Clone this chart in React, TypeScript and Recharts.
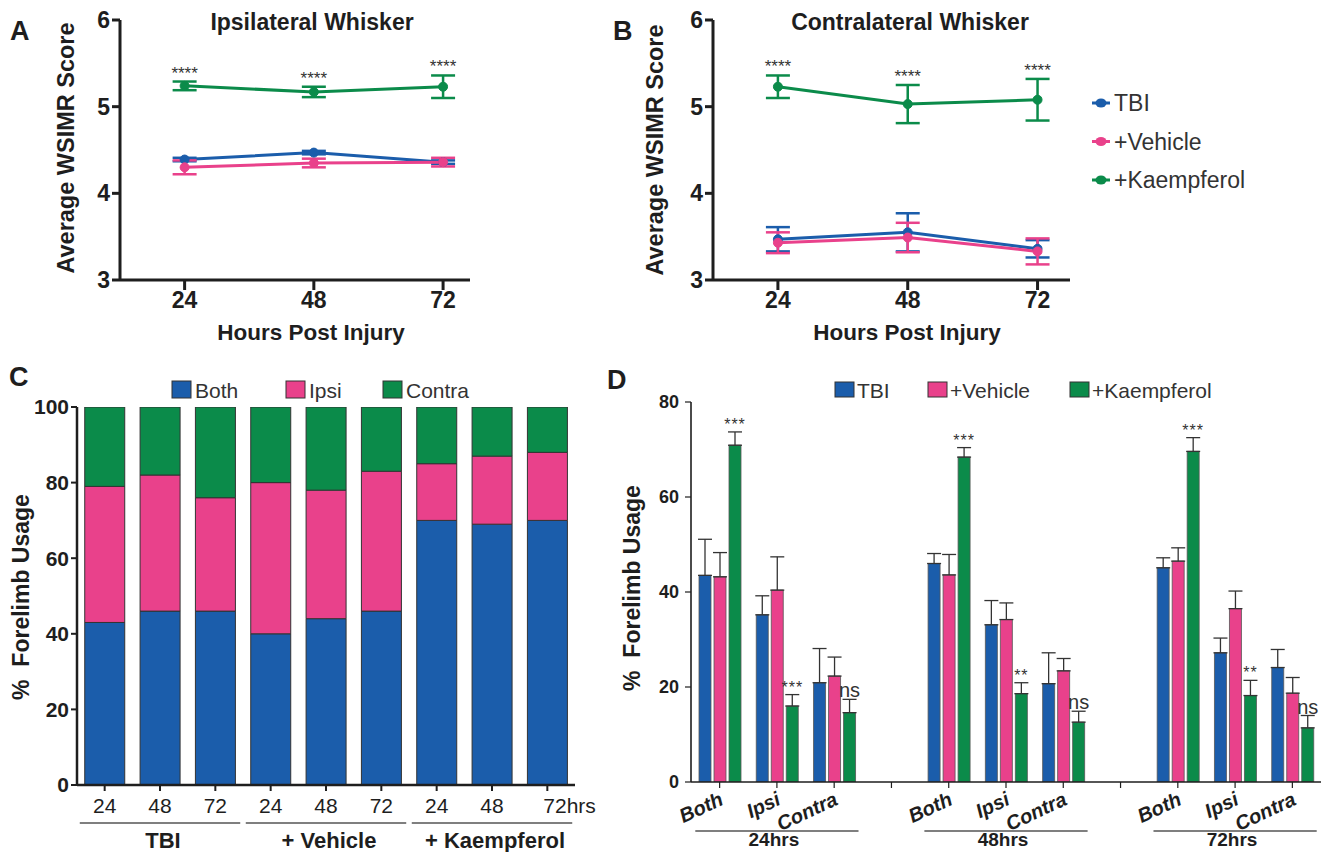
import React from "react";
import {
  LineChart,
  Line,
  BarChart,
  Bar,
  XAxis,
  YAxis,
  ErrorBar,
  LabelList,
} from "recharts";

const FONT = '"Liberation Sans", Arial, Helvetica, sans-serif';
const INK = "#1e1e1e";
const BLUE = "#1b5dab";
const PINK = "#e9418b";
const GREEN = "#0b8b4a";

const seriesNames = ["TBI", "+Vehicle", "+Kaempferol"];
const seriesColors = [BLUE, PINK, GREEN];

// A / B – average WSIMR score
const hours = [24, 48, 72];
const whiskerSig = ["****", "****", "****"];

const ipsiTbi = [4.39, 4.47, 4.36];
const ipsiTbiErr = [0.02, 0.02, 0.02];
const ipsiVeh = [4.3, 4.35, 4.36];
const ipsiVehErr = [0.08, 0.05, 0.05];
const ipsiKae = [5.24, 5.17, 5.23];
const ipsiKaeErr = [0.05, 0.06, 0.13];

const contraTbi = [3.47, 3.55, 3.36];
const contraTbiErr = [0.14, 0.22, 0.1];
const contraVeh = [3.43, 3.49, 3.33];
const contraVehErr = [0.12, 0.17, 0.15];
const contraKae = [5.23, 5.03, 5.08];
const contraKaeErr = [0.13, 0.22, 0.24];

// C – stacked forelimb usage
const cHourLabels = ["24", "48", "72", "24", "48", "72", "24", "48", "72hrs"];
const cGroupLabels = ["TBI", "+ Vehicle", "+ Kaempferol"];
const cBoth = [43, 46, 46, 40, 44, 46, 70, 69, 70];
const cIpsi = [36, 36, 30, 40, 34, 37, 15, 18, 18];
const cContra = [21, 18, 24, 20, 22, 17, 15, 13, 12];
const cNames = ["Both", "Ipsi", "Contra"];

// D – grouped forelimb usage (blank slots between time points)
const dCats = ["Both", "Ipsi", "Contra", "", "Both", "Ipsi", "Contra", "", "Both", "Ipsi", "Contra"];
const dTimes = ["24hrs", "48hrs", "72hrs"];
const dTbi = [43.5, 35.2, 20.9, null, 46.0, 33.1, 20.7, null, 45.1, 27.2, 24.1];
const dTbiErr = [7.6, 4.0, 7.2, null, 2.1, 5.1, 6.5, null, 2.1, 3.1, 3.8];
const dVeh = [43.2, 40.4, 22.3, null, 43.6, 34.2, 23.4, null, 46.5, 36.5, 18.7];
const dVehErr = [5.1, 7.0, 4.0, null, 4.3, 3.5, 2.6, null, 2.8, 3.7, 3.3];
const dKae = [70.9, 16.0, 14.6, null, 68.4, 18.6, 12.6, null, 69.6, 18.2, 11.4];
const dKaeErr = [2.8, 2.4, 2.8, null, 2.0, 2.3, 2.3, null, 2.9, 3.2, 2.6];
const dSig = ["***", "***", "ns", "", "***", "**", "ns", "", "***", "**", "ns"];

function whiskerRows(
  tbi: number[], tbiErr: number[],
  veh: number[], vehErr: number[],
  kae: number[], kaeErr: number[]
) {
  return hours.map((h, i) => ({
    hour: h,
    tbi: tbi[i],
    tbiErr: tbiErr[i],
    veh: veh[i],
    vehErr: vehErr[i],
    kae: kae[i],
    kaeErr: kaeErr[i],
    kaeTop: kae[i] + kaeErr[i],
    sig: whiskerSig[i],
  }));
}

const ipsiRows = whiskerRows(ipsiTbi, ipsiTbiErr, ipsiVeh, ipsiVehErr, ipsiKae, ipsiKaeErr);
const contraRows = whiskerRows(contraTbi, contraTbiErr, contraVeh, contraVehErr, contraKae, contraKaeErr);

const cRows = cBoth.map((b, i) => ({
  key: `${Math.floor(i / 3)}-${cHourLabels[i]}`,
  both: b,
  ipsi: cIpsi[i],
  contra: cContra[i],
}));

const upOnly = (e: number | null) => (e == null ? null : [0, e]);
const dRows = dCats.map((c, i) => ({
  key: `${i}-${c}`,
  tbi: dTbi[i],
  tbiErr: upOnly(dTbiErr[i]),
  veh: dVeh[i],
  vehErr: upOnly(dVehErr[i]),
  kae: dKae[i],
  kaeErr: upOnly(dKaeErr[i]),
  // label text plus what is needed to lift it above the error bar
  sig: dSig[i] ? `${dSig[i]}|${dKae[i]}|${dKaeErr[i]}` : "",
}));

function WhiskerChart({ data, xDomain, yAxisWidth, width }: any) {
  const axis = { stroke: INK, strokeWidth: 3 };
  const tick = { fill: INK, fontSize: 23, fontWeight: 700, fontFamily: FONT };
  const dot = (c: string) => ({ r: 4.5, fill: c, stroke: c, strokeWidth: 1 });
  return (
    <LineChart width={width} height={350} data={data} margin={{ top: 20, right: 10, bottom: 0, left: 0 }}>
      <XAxis type="number" dataKey="hour" domain={xDomain} ticks={hours} allowDataOverflow
        axisLine={axis} tickLine={axis} tickSize={10} tick={tick} height={70} />
      <YAxis type="number" domain={[3, 6]} ticks={[3, 4, 5, 6]} allowDataOverflow
        axisLine={axis} tickLine={axis} tickSize={8} tick={tick} width={yAxisWidth} />
      <Line dataKey="tbi" stroke={BLUE} strokeWidth={3} dot={dot(BLUE)} activeDot={false} isAnimationActive={false}>
        <ErrorBar dataKey="tbiErr" width={12} stroke={BLUE} strokeWidth={2.5} direction="y" />
      </Line>
      <Line dataKey="veh" stroke={PINK} strokeWidth={3} dot={dot(PINK)} activeDot={false} isAnimationActive={false}>
        <ErrorBar dataKey="vehErr" width={12} stroke={PINK} strokeWidth={2.5} direction="y" />
      </Line>
      <Line dataKey="kae" stroke={GREEN} strokeWidth={3} dot={dot(GREEN)} activeDot={false} isAnimationActive={false}>
        <ErrorBar dataKey="kaeErr" width={12} stroke={GREEN} strokeWidth={2.5} direction="y" />
      </Line>
      <Line dataKey="kaeTop" stroke="none" dot={false} activeDot={false} legendType="none" isAnimationActive={false}>
        <LabelList dataKey="sig" position="top" offset={3} fill="#333" fontSize={17} fontFamily={FONT} />
      </Line>
    </LineChart>
  );
}

const CTick = (props: any) => {
  const { x, y, payload } = props;
  const i = typeof props.index === "number" ? props.index : payload.index;
  const half = payload.offset || 27.6;
  const last = i === cHourLabels.length - 1;
  return (
    <g>
      <text x={last ? x - 4 : x} y={y + 20} textAnchor={last ? "start" : "middle"} fill={INK} fontSize={21} fontFamily={FONT}>
        {cHourLabels[i]}
      </text>
      {i % 3 === 1 && (
        <g>
          <line x1={x - half * 2.9} x2={x + half * 2.9} y1={y + 30} y2={y + 30} stroke="#555" strokeWidth={1.5} />
          <text x={x + 3} y={y + 55} textAnchor="middle" fill={INK} fontSize={22} fontWeight={700} fontFamily={FONT}>
            {cGroupLabels[(i - 1) / 3]}
          </text>
        </g>
      )}
    </g>
  );
};

const DTick = (props: any) => {
  const { x, y, payload } = props;
  const i = typeof props.index === "number" ? props.index : payload.index;
  const half = payload.offset || 28.6;
  const label = dCats[i];
  return (
    <g>
      {label && (
        <text x={x + 5} y={y + 14} transform={`rotate(-25 ${x + 5} ${y + 14})`} textAnchor="end"
          fill={INK} fontSize={20} fontStyle="italic" fontWeight={700} fontFamily={FONT}>
          {label}
        </text>
      )}
      {i % 4 === 1 && (
        <g>
          <line x1={x - half * 2.85} x2={x + half * 2.85} y1={y + 41} y2={y + 41} stroke="#555" strokeWidth={1.5} />
          <text x={x - 3} y={y + 56} textAnchor="middle" fill={INK} fontSize={19} fontWeight={700} fontFamily={FONT}>
            {dTimes[(i - 1) / 4]}
          </text>
        </g>
      )}
    </g>
  );
};

const SigLabel = (props: any) => {
  const raw = props.value;
  if (!raw || typeof raw !== "string") return null;
  const [text, vStr, eStr] = raw.split("|");
  const v = Number(vStr);
  const e = Number(eStr);
  const vb = props.viewBox || props;
  const h = Math.abs(vb.height);
  const top = Math.min(vb.y, vb.y + vb.height);
  const errTop = top - (e * h) / v;
  const isNs = text === "ns";
  return (
    <text x={vb.x + vb.width / 2} y={errTop - 2} textAnchor="middle" fill="#333"
      fontSize={isNs ? 20 : 16} letterSpacing={isNs ? 0 : 1} fontFamily={FONT}>
      {text}
    </text>
  );
};

function Overlay() {
  const t = { fontFamily: FONT, fill: INK };
  const rot = (x: number, y: number) => `translate(${x} ${y}) rotate(-90)`;
  return (
    <svg width={1321} height={852} style={{ position: "absolute", left: 0, top: 0, pointerEvents: "none" }}>
      <text x={10} y={40} fontSize={27} fontWeight={700} {...t}>A</text>
      <text x={613} y={40} fontSize={27} fontWeight={700} {...t}>B</text>
      <text x={9} y={386} fontSize={27} fontWeight={700} {...t}>C</text>
      <text x={607} y={389} fontSize={27} fontWeight={700} {...t}>D</text>

      <text x={312} y={30} textAnchor="middle" fontSize={23} fontWeight={700} {...t}>Ipsilateral Whisker</text>
      <text x={910} y={30} textAnchor="middle" fontSize={23} fontWeight={700} {...t}>Contralateral Whisker</text>
      <text x={311} y={340} textAnchor="middle" fontSize={22.5} fontWeight={700} {...t}>Hours Post Injury</text>
      <text x={907} y={340} textAnchor="middle" fontSize={22.5} fontWeight={700} {...t}>Hours Post Injury</text>

      <text transform={rot(66, 148)} textAnchor="middle" dominantBaseline="central" fontSize={23.5} fontWeight={700} {...t}>
        Average WSIMR Score
      </text>
      <text transform={rot(655, 150)} textAnchor="middle" dominantBaseline="central" fontSize={23.5} fontWeight={700} {...t}>
        Average WSIMR Score
      </text>
      <text transform={rot(21, 597)} textAnchor="middle" dominantBaseline="central" fontSize={23} fontWeight={700}
        style={{ whiteSpace: "pre" }} {...t}>
        {"%  Forelimb Usage"}
      </text>
      <text transform={rot(632, 588)} textAnchor="middle" dominantBaseline="central" fontSize={23} fontWeight={700}
        style={{ whiteSpace: "pre" }} {...t}>
        {"%  Forelimb Usage"}
      </text>

      {/* B legend */}
      {seriesNames.map((n, i) => {
        const cy = 103 + i * 38.5;
        return (
          <g key={n}>
            <line x1={1092} x2={1110} y1={cy} y2={cy} stroke={seriesColors[i]} strokeWidth={3} />
            <ellipse cx={1101} cy={cy} rx={5.5} ry={4.5} fill={seriesColors[i]} />
            <text x={1114} y={cy} dominantBaseline="central" fontSize={23} fill="#333" fontFamily={FONT}>{n}</text>
          </g>
        );
      })}

      {/* C legend */}
      {cNames.map((n, i) => {
        const sx = [172, 286, 383][i];
        return (
          <g key={n}>
            <rect x={sx} y={381} width={19} height={17} fill={seriesColors[i]} stroke="#333" strokeWidth={1} />
            <text x={sx + 23} y={390} dominantBaseline="central" fontSize={21} fill="#333" fontFamily={FONT}>{n}</text>
          </g>
        );
      })}

      {/* D legend */}
      {seriesNames.map((n, i) => {
        const sx = [835, 928, 1070][i];
        return (
          <g key={n}>
            <rect x={sx} y={382} width={19} height={15} fill={seriesColors[i]} stroke="#333" strokeWidth={1} />
            <text x={sx + 22} y={390} dominantBaseline="central" fontSize={21} fill="#333" fontFamily={FONT}>{n}</text>
          </g>
        );
      })}
    </svg>
  );
}

export default function App() {
  const cAxis = { stroke: INK, strokeWidth: 2.5 };
  const cTickStyle = { fill: INK, fontSize: 21, fontWeight: 700, fontFamily: FONT };
  const dAxis = { stroke: INK, strokeWidth: 1.6 };
  const dTickStyle = { fill: INK, fontSize: 18, fontWeight: 700, fontFamily: FONT };
  const errStyle = { stroke: "#333", strokeWidth: 1.3 };

  return (
    <div style={{ position: "absolute", left: 0, top: 0, width: 1321, height: 852, background: "#fff", fontFamily: FONT, overflow: "hidden" }}>
      <div style={{ position: "absolute", left: 0, top: 0 }}>
        <WhiskerChart data={ipsiRows} xDomain={[12, 77]} yAxisWidth={120} width={480} />
      </div>
      <div style={{ position: "absolute", left: 600, top: 0 }}>
        <WhiskerChart data={contraRows} xDomain={[12, 78]} yAxisWidth={113} width={480} />
      </div>

      <div style={{ position: "absolute", left: 0, top: 360 }}>
        <BarChart width={615} height={492} data={cRows} margin={{ top: 47, right: 40, bottom: 0, left: 0 }} barCategoryGap="14%">
          <XAxis dataKey="key" interval={0} axisLine={cAxis} tickLine={{ stroke: INK, strokeWidth: 2 }} tickSize={6} height={67} tick={<CTick />} />
          <YAxis domain={[0, 100]} ticks={[0, 20, 40, 60, 80, 100]} allowDataOverflow axisLine={cAxis}
            tickLine={{ stroke: INK, strokeWidth: 2 }} tickSize={6} tick={cTickStyle} width={77} />
          <Bar dataKey="both" stackId="s" fill={BLUE} stroke="#333" strokeWidth={1} isAnimationActive={false} />
          <Bar dataKey="ipsi" stackId="s" fill={PINK} stroke="#333" strokeWidth={1} isAnimationActive={false} />
          <Bar dataKey="contra" stackId="s" fill={GREEN} stroke="#333" strokeWidth={1} isAnimationActive={false} />
        </BarChart>
      </div>

      <div style={{ position: "absolute", left: 600, top: 360 }}>
        <BarChart width={721} height={492} data={dRows} margin={{ top: 42, right: 0, bottom: 0, left: 0 }} barSize={12} barGap={3}>
          <XAxis dataKey="key" interval={0} axisLine={dAxis} tickLine={{ stroke: INK, strokeWidth: 1.2 }} tickSize={6} height={70} tick={<DTick />} />
          <YAxis domain={[0, 80]} ticks={[0, 20, 40, 60, 80]} allowDataOverflow axisLine={dAxis}
            tickLine={{ stroke: INK, strokeWidth: 1.2 }} tickSize={6} tickMargin={6} tick={dTickStyle} width={91} />
          <Bar dataKey="tbi" fill={BLUE} stroke="#555" strokeWidth={0.8} isAnimationActive={false}>
            <ErrorBar dataKey="tbiErr" width={7} direction="y" {...errStyle} />
          </Bar>
          <Bar dataKey="veh" fill={PINK} stroke="#555" strokeWidth={0.8} isAnimationActive={false}>
            <ErrorBar dataKey="vehErr" width={7} direction="y" {...errStyle} />
          </Bar>
          <Bar dataKey="kae" fill={GREEN} stroke="#555" strokeWidth={0.8} isAnimationActive={false}>
            <ErrorBar dataKey="kaeErr" width={7} direction="y" {...errStyle} />
            <LabelList dataKey="sig" content={<SigLabel />} />
          </Bar>
        </BarChart>
      </div>

      <Overlay />
    </div>
  );
}
